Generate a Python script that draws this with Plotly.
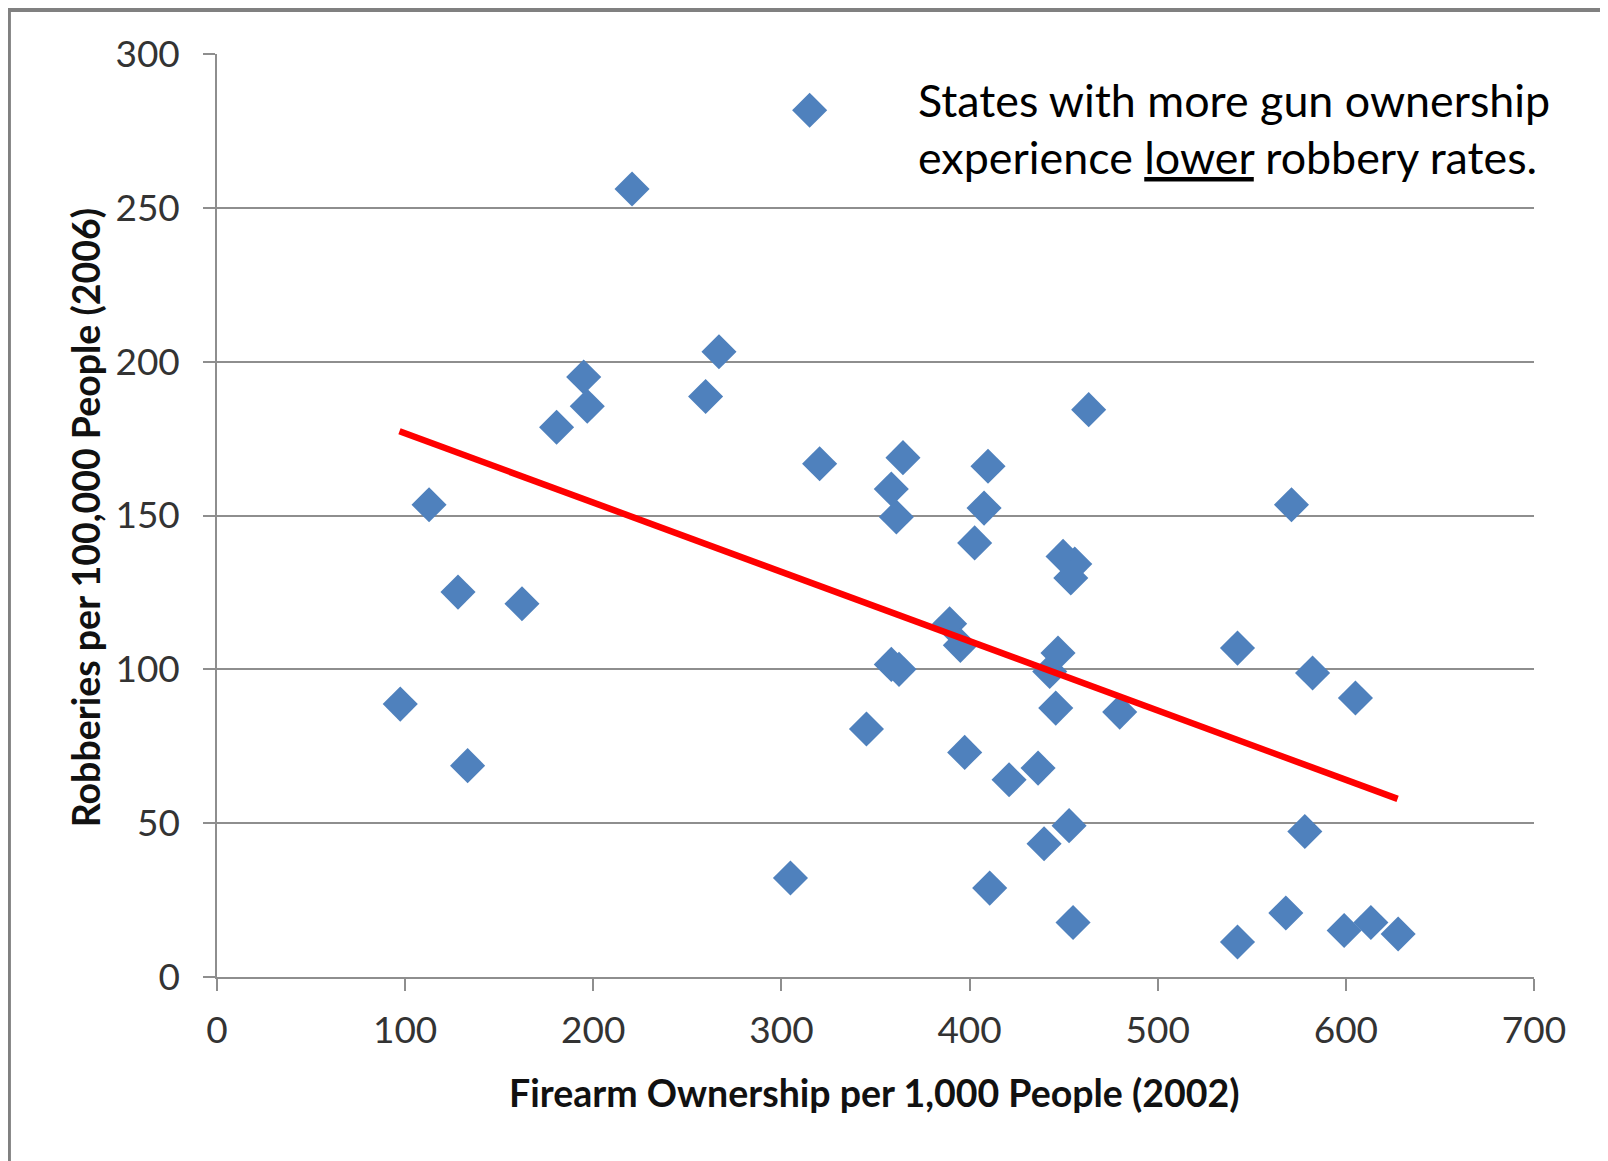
import plotly.graph_objects as go

# ---- data ----
firearms = [97.4, 112.7, 128.1, 133.2, 162.1, 180.5, 194.9, 196.8, 220.6, 259.7,
            266.8, 304.8, 315.0, 320.3, 345.2, 358.4, 361.1, 364.6, 358.4, 362.5,
            389.4, 395.1, 397.4, 402.7, 407.7, 409.8, 410.7, 421.0, 436.4, 439.6,
            442.6, 447.0, 445.8, 449.7, 455.9, 453.8, 452.9, 455.0, 463.3, 479.8,
            542.4, 542.4, 568.1, 571.1, 578.2, 582.3, 599.1, 605.1, 613.3, 627.8]
robberies = [88.7, 153.5, 125.1, 68.7, 121.3, 178.7, 195.0, 185.5, 256.1, 188.7,
             203.2, 32.2, 281.7, 166.8, 80.6, 158.6, 149.5, 168.8, 101.6, 100.0,
             114.8, 107.8, 73.0, 141.1, 152.4, 166.0, 28.9, 64.1, 67.9, 43.3,
             99.3, 105.3, 87.4, 136.7, 134.2, 129.7, 49.2, 17.7, 184.4, 86.1,
             106.9, 11.4, 20.8, 153.5, 47.3, 98.8, 15.1, 90.7, 17.7, 14.0]

trend_x = [97.0, 627.5]
trend_y = [177.4, 57.9]

x_ticks = [0, 100, 200, 300, 400, 500, 600, 700]
y_ticks = [0, 50, 100, 150, 200, 250, 300]

x_title = "Firearm Ownership per 1,000 People (2002)"
y_title = "Robberies per 100,000 People (2006)"
note_line1 = "States with more gun ownership"
note_line2 = "experience <u>lower</u> robbery rates."

# ---- styling ----
FONT = "Lato"
GRID = "#8e8e8e"
BODY = 8  # default page margin of the html body

fig = go.Figure()
fig.add_trace(go.Scatter(
    x=firearms, y=robberies, mode="markers",
    marker=dict(symbol="diamond", size=27, color="#4F81BD", line=dict(width=0)),
    showlegend=False, hoverinfo="x+y"))
fig.add_trace(go.Scatter(
    x=trend_x, y=trend_y, mode="lines",
    line=dict(color="#FF0000", width=6.5),
    showlegend=False, hoverinfo="skip"))

fig.update_layout(
    width=1608, height=1161,
    margin=dict(l=217 - BODY, r=74 + BODY, t=54 - BODY, b=184 + BODY, pad=0),
    paper_bgcolor="white", plot_bgcolor="white",
    font=dict(family=FONT, color="#222222"),
    xaxis=dict(
        range=[0, 700], tickvals=x_ticks, ticktext=[str(v) for v in x_ticks],
        showgrid=False, zeroline=False,
        showline=True, linecolor=GRID, linewidth=1.5,
        ticks="outside", ticklen=12, tickwidth=1.5, tickcolor=GRID,
        tickfont=dict(family=FONT, size=37, color="#333333"),
        ticklabelstandoff=8, fixedrange=True),
    yaxis=dict(
        range=[0, 300], tickvals=y_ticks, ticktext=[str(v) for v in y_ticks],
        showgrid=True, gridcolor=GRID, gridwidth=1.5, zeroline=False,
        showline=True, linecolor=GRID, linewidth=1.5,
        ticks="outside", ticklen=12, tickwidth=1.5, tickcolor=GRID,
        tickfont=dict(family=FONT, size=37, color="#333333"),
        ticklabelstandoff=16, fixedrange=True),
    annotations=[
        dict(text="<b>" + x_title + "</b>", xref="paper", yref="paper",
             x=0.4996, y=-0.1246, xanchor="center", yanchor="middle",
             showarrow=False, font=dict(family=FONT, size=37.5, color="#111111")),
        dict(text="<b>" + y_title + "</b>", xref="paper", yref="paper",
             x=-0.1002, y=0.497, xanchor="center", yanchor="middle", textangle=-90,
             showarrow=False, font=dict(family=FONT, size=37.5, color="#111111")),
        dict(text=note_line1, xref="paper", yref="paper",
             x=0.5305, y=0.9502, xanchor="left", yanchor="middle",
             showarrow=False, font=dict(family=FONT, size=44.8, color="#000000")),
        dict(text=note_line2, xref="paper", yref="paper",
             x=0.5305, y=0.8880, xanchor="left", yanchor="middle",
             showarrow=False, font=dict(family=FONT, size=44.8, color="#000000")),
    ],
    shapes=[
        dict(type="rect", xref="paper", yref="paper",
             x0=-0.158, x1=1.08, y0=-0.23, y1=1.0477,
             line=dict(color="#808080", width=4), fillcolor="rgba(0,0,0,0)",
             layer="above"),
    ],
)

fig.write_html("out.html")
